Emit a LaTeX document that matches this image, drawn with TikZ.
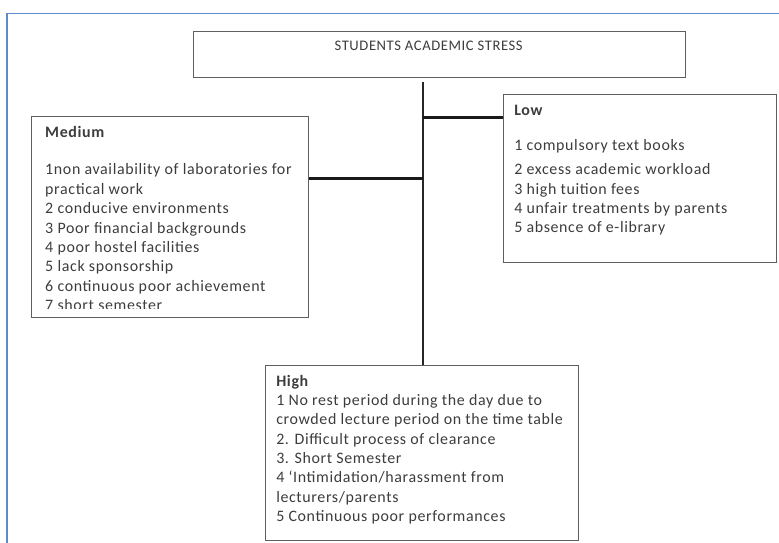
\documentclass[tikz,border=0pt]{standalone}
\usepackage{fontspec}
\setmainfont{Carlito}[LetterSpace=4]
\definecolor{framebl}{RGB}{96,138,204}
\definecolor{boxgray}{RGB}{95,95,95}
\definecolor{inkgray}{RGB}{60,60,60}

\begin{document}
\begin{tikzpicture}[
  box/.style={draw=boxgray, line width=0.9pt, inner sep=0pt, anchor=north west},
  list/.style={anchor=base west, inner sep=0pt, text=inkgray,
    font=\fontsize{12pt}{14.6pt}\selectfont},
  spine/.style={line width=1pt, black!85},
  link/.style={line width=2.2pt, black!90}
]
  \useasboundingbox (0cm, 0cm) rectangle (20.611cm, -14.367cm);
  \draw[framebl, line width=1.1pt] (0.190cm, -14.367cm) -- (0.190cm, -0.362cm) -- (20.611cm, -0.362cm);

  \node[box, minimum width=13.017cm, text=inkgray, text height=14.25pt, text depth=20.25pt,
    font=\fontsize{11pt}{13pt}\selectfont] (title) at (5.106cm, -0.820cm)
    {STUDENTS ACADEMIC STRESS\hspace*{16.5pt}};

  \node[box, minimum width=7.329cm, minimum height=5.318cm] (medium) at (0.820cm, -3.069cm) {};
  \node[box, minimum width=7.223cm, minimum height=4.445cm] (low) at (13.308cm, -2.487cm) {};
  \node[box, minimum width=8.281cm, minimum height=4.630cm] (high) at (7.011cm, -9.657cm) {};

  \begin{scope}
    \clip (medium.north west) rectangle ([yshift=0.265cm] medium.south east);
    \node[list] (mediumtext) at ([xshift=0.370cm, yshift=-0.582cm] medium.north west)
      {\parbox[t]{7cm}{\raggedright
       \textbf{Medium}\\[13.2pt]
       1non availability of laboratories for\\
       practical work\\
       2 conducive  environments\\
       3 Poor financial backgrounds\\
       4 poor  hostel facilities\\
       5 lack sponsorship\\
       6 continuous  poor achievement\\
       7 short semester}};
  \end{scope}

  \node[list] (lowtext) at ([xshift=0.291cm, yshift=-0.556cm] low.north west)
    {\parbox[t]{7cm}{\raggedright
     \textbf{Low}\\[12.4pt]
     1 compulsory text books\\[3.4pt]
     2 excess academic workload\\
     3 high tuition fees\\
     4 unfair treatments by parents\\
     5 absence of e-library}};

  \node[list] (hightext) at ([xshift=0.291cm, yshift=-0.556cm] high.north west)
    {\parbox[t]{8cm}{\raggedright
     \textbf{High}\\
     1 No rest period during the day due to\\
     crowded lecture period on the time table\\
     2. Difficult process of clearance\\
     3. Short Semester\\
     4 `Intimidation/harassment from\\
     lecturers/parents\\
     5 Continuous  poor performances}};

  \coordinate (spinetop) at (11.192cm, -2.170cm);
  \coordinate (lowjoin) at (11.192cm, -3.104cm);
  \coordinate (medjoin) at (11.192cm, -4.717cm);

  \draw[spine] (spinetop) -- (spinetop |- high.north);
  \draw[link] (lowjoin) -- (lowjoin -| low.west);
  \draw[link] (medjoin -| medium.east) -- (medjoin);

\end{tikzpicture}
\end{document}
